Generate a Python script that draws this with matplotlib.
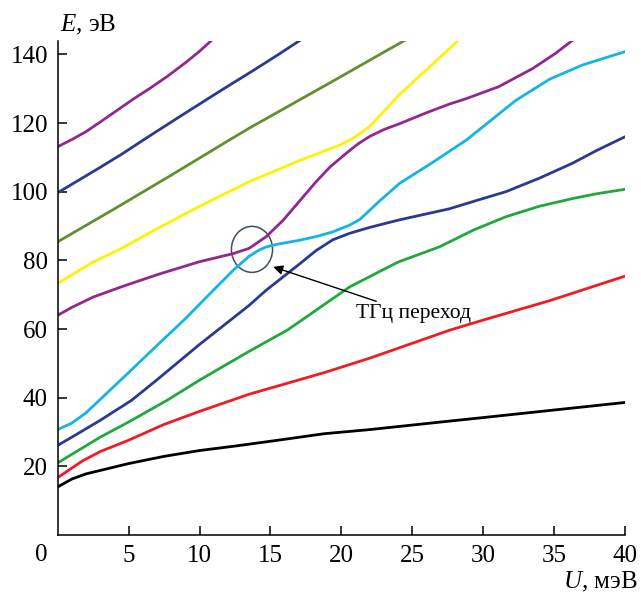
"""Energy levels E(U) with the THz transition marked."""

import matplotlib
import matplotlib.pyplot as plt
from matplotlib.patches import Ellipse
from matplotlib.transforms import blended_transform_factory

matplotlib.use("Agg")

plt.rcParams["font.family"] = ["Liberation Serif", "DejaVu Serif"]
plt.rcParams["mathtext.fontset"] = "custom"
plt.rcParams["mathtext.it"] = "Liberation Serif:italic"
plt.rcParams["mathtext.rm"] = "Liberation Serif"

# ── Data ─────────────────────────────────────────────────────────────────────

black_x = [0, 1, 2, 3, 5, 7.5, 10, 12.5, 15, 18.8, 22, 27, 30, 35, 40]
black_y = [14.0, 16.3, 17.8, 18.8, 20.8, 22.9, 24.6, 25.9, 27.3, 29.5, 30.7, 32.9, 34.2, 36.4, 38.6]

red_x = [0, 1, 1.8, 3, 5, 7.5, 10, 13.5, 18.8, 22, 27.6, 30, 34.8, 40]
red_y = [16.7, 19.5, 21.7, 24.3, 27.6, 32.2, 36.0, 41.0, 47.3, 51.5, 59.6, 62.6, 68.4, 75.4]

green_x = [0, 1, 3, 5, 7.7, 10, 13.5, 16.2, 20.6, 24, 26.9, 29.3, 31.6, 34, 36.3, 38, 40]
green_y = [21.0, 23.5, 28.5, 32.9, 39.2, 45.1, 53.5, 59.7, 72.3, 79.5, 83.9, 88.8, 92.7, 95.8, 98.0, 99.4, 100.7]

navy_x = [0, 1, 3, 5.2, 7, 10, 12, 13.5, 14.7, 17.1, 18.2, 19.4, 20.6, 22, 24.1, 27.6,
          29.5, 31.6, 34, 36.3, 38, 40]
navy_y = [26.1, 28.5, 33.4, 39.2, 45.2, 55.5, 62.0, 66.9, 71.3, 79.1, 82.8, 86.0, 87.9, 89.6,
          91.8, 95.0, 97.4, 100.0, 104.0, 108.3, 112.0, 116.0]

cyan_x = [0, 1, 2, 3, 5, 7, 9, 10, 11, 12.4, 13.5, 14.2, 14.7, 15.5, 17.1, 18.2, 19.4, 20.6,
          21.3, 22.7, 24.1, 26.5, 28.8, 30.1, 32.3, 34.7, 37, 40]
cyan_y = [30.7, 32.6, 35.6, 39.5, 47.3, 55.2, 63.0, 67.2, 71.4, 77.2, 81.2, 83.0, 83.9, 84.7,
          85.9, 86.9, 88.3, 90.3, 91.9, 97.3, 102.4, 108.7, 115.0, 119.3, 126.6, 132.8, 136.9,
          140.8]

purple_x = [0, 1, 2.5, 4.5, 7, 9.2, 10, 11, 12.4, 13.5, 14.7, 15.9, 17.1, 18.2, 19.2, 20.35,
            21.2, 22, 23, 24.1, 26, 27.6, 28.8, 31.1, 33.5, 35.1, 36.4]
purple_y = [64.0, 66.3, 69.3, 72.3, 75.8, 78.6, 79.6, 80.6, 82.0, 83.5, 86.9, 91.7, 97.5, 102.8,
            107.2, 111.2, 114.0, 116.1, 118.1, 119.8, 123.0, 125.5, 127.1, 130.6, 135.9, 140.3,
            144.4]

yellow_x = [0, 1, 2.5, 4.5, 6.6, 9, 10.85, 13.5, 15, 17, 19.9, 21, 22, 23, 24.1, 26, 27.6, 28.4]
yellow_y = [73.3, 75.8, 79.5, 83.5, 88.3, 93.6, 97.5, 102.9, 105.5, 109.0, 113.6, 116.0, 119.0,
            123.4, 128.3, 135.5, 141.6, 144.8]

olive_x = [0, 2, 4, 6, 8, 10, 12, 13.5, 16, 19.4, 22, 24.6]
olive_y = [85.4, 90.2, 95.0, 99.9, 104.8, 109.8, 114.8, 118.5, 124.3, 132.2, 138.3, 144.4]

navy2_x = [0, 1.5, 3, 4.5, 6.5, 8.5, 11.4, 13.9, 15.5, 17.2]
navy2_y = [99.7, 103.4, 107.1, 110.9, 116.3, 121.6, 129.2, 135.6, 139.8, 144.4]

purple2_x = [0, 1, 2, 3, 4.15, 5.3, 6.5, 7.8, 9.08, 10.0, 10.96]
purple2_y = [113.1, 115.2, 117.5, 120.3, 123.6, 126.9, 130.1, 133.8, 137.8, 140.9, 144.5]

x_ticks = [5, 10, 15, 20, 25, 30, 35, 40]
y_ticks = [20, 40, 60, 80, 100, 120, 140]

BLACK = "#000000"
RED = "#ee1c25"
GREEN = "#1fa93c"
NAVY = "#2b3990"
CYAN = "#14b4e8"
PURPLE = "#92278f"
YELLOW = "#fff200"
OLIVE = "#62902e"

# ── Figure ───────────────────────────────────────────────────────────────────

fig = plt.figure(figsize=(6.41, 5.98), dpi=100)
ax = fig.add_axes([0.090, 0.1054, 0.885, 0.8266])

curves = [
    (black_x, black_y, BLACK),
    (red_x, red_y, RED),
    (green_x, green_y, GREEN),
    (navy_x, navy_y, NAVY),
    (cyan_x, cyan_y, CYAN),
    (purple_x, purple_y, PURPLE),
    (yellow_x, yellow_y, YELLOW),
    (olive_x, olive_y, OLIVE),
    (navy2_x, navy2_y, NAVY),
    (purple2_x, purple2_y, PURPLE),
]
for xs, ys, c in curves:
    ax.plot(xs, ys, color=c, linewidth=2.0, solid_joinstyle="round", solid_capstyle="round")

ax.set_xlim(0, 40)
ax.set_ylim(0, 144)
ax.set_xticks(x_ticks)
ax.set_yticks(y_ticks)
ax.tick_params(direction="in", length=6.5, width=1.1, labelsize=18, pad=7)
ax.spines[["top", "right"]].set_visible(False)
ax.spines[["left", "bottom"]].set_linewidth(1.1)

# corner zero
trans = blended_transform_factory(ax.transData, ax.transAxes)
ax.text(-1.15, -0.041, "0", transform=trans, ha="center", va="center", fontsize=18)

# axis labels
fig.text(0.093, 0.958, "$E$, эВ", ha="left", va="center", fontsize=18)
fig.text(0.995, 0.027, "$U$, мэВ", ha="right", va="center", fontsize=18)

# THz transition marker
ax.add_patch(Ellipse((13.7, 83.2), 2.9, 13.4, fill=False, edgecolor="#3d5058", linewidth=1.1))
ax.annotate(
    "ТГц переход",
    xy=(15.2, 78.1),
    xytext=(21.0, 64.5),
    ha="left",
    va="center",
    fontsize=15.5,
    arrowprops=dict(arrowstyle="-|>", color="black", lw=1.0, mutation_scale=14,
                    shrinkA=0, shrinkB=0),
)

fig.savefig("out.png", dpi=100)
plt.close(fig)
